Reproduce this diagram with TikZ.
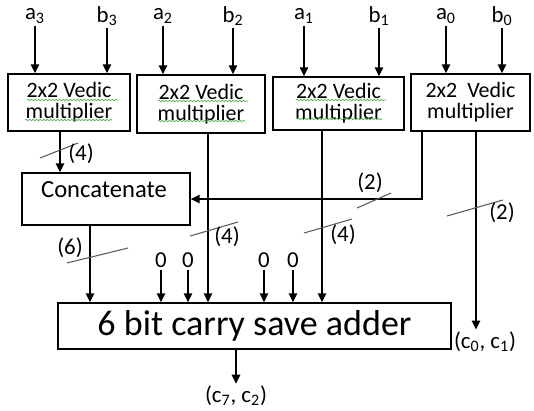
\documentclass[tikz,border=0pt]{standalone}
\usepackage{fontspec}
\setmainfont{Carlito}
\usetikzlibrary{arrows.meta,decorations.pathmorphing}
\newcommand{\idx}[1]{\textsubscript{#1}}

\begin{document}
\begin{tikzpicture}[
  x=0.02cm, y=-0.02cm,
  line width=0.8pt,
  >={Triangle[length=0.18cm,width=0.17cm]},
  mult/.style={draw,align=center,inner sep=0pt,font=\fontsize{12.5}{12}\selectfont},
  box/.style={draw,inner sep=0pt},
  inlbl/.style={inner sep=1pt,font=\fontsize{13}{15}\selectfont},
  slash/.style={black!65,line width=0.6pt},
  squiggle/.style={green!55!black!70,line width=0.4pt,decorate,
    decoration={snake,amplitude=0.35pt,segment length=2pt}}
]
  \useasboundingbox (0,0) rectangle (534,410);
  % multipliers
  \node[mult,minimum width=2.44cm,minimum height=1.14cm] (m3) at (69,102.5) {2x2 Vedic\\multiplier};
  \node[mult,minimum width=2.56cm,minimum height=1.16cm] (m2) at (201,104) {2x2 Vedic\\multiplier};
  \node[mult,minimum width=2.62cm,minimum height=1.06cm] (m1) at (338.5,103.5) {2x2 Vedic\\multiplier};
  \node[mult,minimum width=2.38cm,minimum height=1.14cm] (m0) at (470.5,102.5) {2x2\ \ Vedic\\multiplier};
  % spell check marks
  \draw[squiggle] (27,100) -- (118,100);
  \draw[squiggle] (25,120) -- (112,120);
  \draw[squiggle] (158,101) -- (248,101);
  \draw[squiggle] (158,121) -- (245,121);
  \draw[squiggle] (296,100) -- (386,100);
  \draw[squiggle] (297,119) -- (382,119);
  % inputs
  \node[inlbl] (a3) at (35,16) {a\idx{3}};
  \node[inlbl] (b3) at (107,16) {b\idx{3}};
  \node[inlbl] (a2) at (163,16) {a\idx{2}};
  \node[inlbl] (b2) at (233,16) {b\idx{2}};
  \node[inlbl] (a1) at (304,16) {a\idx{1}};
  \node[inlbl] (b1) at (379,16) {b\idx{1}};
  \node[inlbl] (a0) at (446,16) {a\idx{0}};
  \node[inlbl] (b0) at (502,16) {b\idx{0}};
  \draw[->] (a3) -- (a3 |- m3.north);
  \draw[->] (b3) -- (b3 |- m3.north);
  \draw[->] (a2) -- (a2 |- m2.north);
  \draw[->] (b2) -- (b2 |- m2.north);
  \draw[->] (a1) -- (a1 |- m1.north);
  \draw[->] (b1) -- (b1 |- m1.north);
  \draw[->] (a0) -- (a0 |- m0.north);
  \draw[->] (b0) -- (b0 |- m0.north);
  % concatenate and adder
  \node[box,minimum width=3.36cm,minimum height=1.04cm] (cat) at (106,199) {};
  \node[font=\fontsize{14}{16}\selectfont] (catlbl) at (104,190) {Concatenate};
  \node[box,minimum width=7.86cm,minimum height=0.92cm,font=\fontsize{20.5}{24}\selectfont] (csa) at (254.5,326) {6 bit carry save adder};
  % bus positions
  \coordinate (p3) at (60,0);
  \coordinate (p2) at (208,0);
  \coordinate (p1) at (322,0);
  \coordinate (q0) at (422,0);
  \coordinate (p0) at (476,0);
  \coordinate (pc) at (90,0);
  \draw[->] (m3.south -| p3) -- (cat.north -| p3);
  \draw[->] (m2.south -| p2) -- (csa.north -| p2);
  \draw[->] (m1.south -| p1) -- (csa.north -| p1);
  \draw[->] (m0.south -| q0) |- (cat.east);
  \draw[->] (cat.south -| pc) -- (csa.north -| pc);
  \node[inlbl] (c01) at (485,342) {(c\idx{0}, c\idx{1})};
  \draw[->] (m0.south -| p0) -- (c01.north -| p0);
  % constant zeros
  \node[inlbl] (z1) at (161,260) {0};
  \node[inlbl] (z2) at (188,260) {0};
  \node[inlbl] (z3) at (264,260) {0};
  \node[inlbl] (z4) at (293,260) {0};
  \draw[->] (z1) -- (z1 |- csa.north);
  \draw[->] (z2) -- (z2 |- csa.north);
  \draw[->] (z3) -- (z3 |- csa.north);
  \draw[->] (z4) -- (z4 |- csa.north);
  \node[inlbl] (c72) at (236,396) {(c\idx{7}, c\idx{2})};
  \draw[->] (csa.south -| c72) -- (c72);
  % bus widths
  \draw[slash] (40,158) -- (78,143);
  \draw[slash] (190,236) -- (238,222);
  \draw[slash] (304,233) -- (352,219);
  \draw[slash] (357,208) -- (391,193);
  \draw[slash] (447,216) -- (503,200);
  \draw[slash] (67,263) -- (128,248);
  \node[inlbl] (w3) at (81,154) {(4)};
  \node[inlbl] (w2) at (227,237) {(4)};
  \node[inlbl] (w1) at (343,235) {(4)};
  \node[inlbl] (w0) at (370,183) {(2)};
  \node[inlbl] (v0) at (502,213) {(2)};
  \node[inlbl] (wc) at (70,248) {(6)};
\end{tikzpicture}
\end{document}
